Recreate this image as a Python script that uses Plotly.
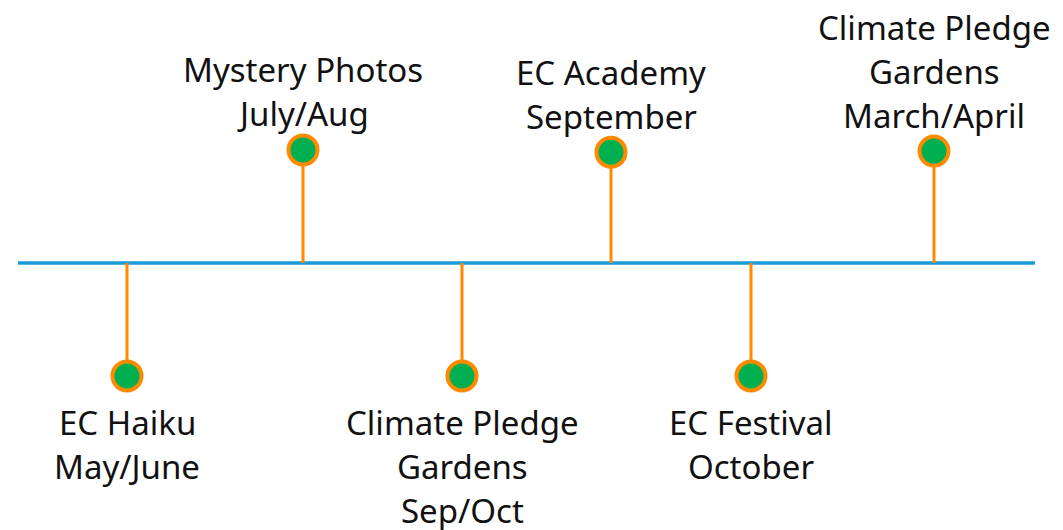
import plotly.graph_objects as go

# Timeline data
events = ["EC Haiku", "Mystery Photos", "Climate Pledge Gardens", "EC Academy", "EC Festival", "Climate Pledge Gardens"]
label_lines = [
    ["EC Haiku", "May/June"],
    ["Mystery Photos", "July/Aug"],
    ["Climate Pledge", "Gardens", "Sep/Oct"],
    ["EC Academy", "September"],
    ["EC Festival", "October"],
    ["Climate Pledge", "Gardens", "March/April"],
]
positions = [127, 303, 462, 611, 751, 934]
heights = [-1.0, 1.0, -1.0, 0.98, -1.0, 0.99]
line_start, line_end = 18, 1035

BLUE = "#1A9BD7"
ORANGE = "#FF8A00"
GREEN = "#00B050"

fig = go.Figure()

# main timeline
fig.add_trace(go.Scatter(x=[line_start, line_end], y=[0, 0], mode="lines",
                         line=dict(color=BLUE, width=3.5), hoverinfo="skip", showlegend=False))

# stems
for x, h in zip(positions, heights):
    fig.add_trace(go.Scatter(x=[x, x], y=[0, h], mode="lines",
                             line=dict(color=ORANGE, width=3), hoverinfo="skip", showlegend=False))

# dots
fig.add_trace(go.Scatter(x=positions, y=heights, mode="markers",
                         marker=dict(size=29, color=GREEN, line=dict(color=ORANGE, width=4)),
                         text=events, hoverinfo="text", showlegend=False))

FONT = dict(family="Noto Sans", size=33, color="#111111")
SPACING = 44
for x, h, lines in zip(positions, heights, label_lines):
    n = len(lines)
    for i, t in enumerate(lines):
        if h > 0:
            shift = 36 + (n - 1 - i) * SPACING
        else:
            shift = -(47 + i * SPACING)
        fig.add_annotation(x=x, y=h, text=t, showarrow=False, yshift=shift,
                           font=FONT, xanchor="center", yanchor="middle")

fig.update_layout(
    width=1063, height=530,
    margin=dict(l=0, r=0, t=0, b=0),
    paper_bgcolor="white", plot_bgcolor="white",
    xaxis=dict(range=[0, 1063], visible=False, fixedrange=True),
    yaxis=dict(range=[-2.363, 2.327], visible=False, fixedrange=True),
)

fig.write_html("out.html", config={"displayModeBar": False},
               post_script="document.body.style.margin='0';document.body.style.overflow='hidden';")
